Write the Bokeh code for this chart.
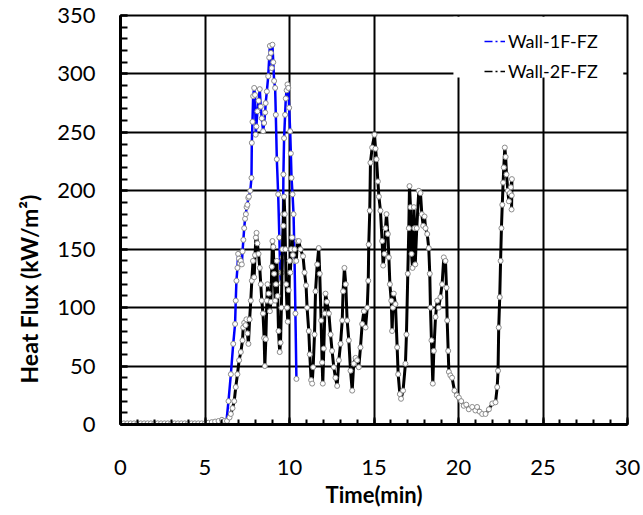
from bokeh.plotting import figure
from bokeh.models import (Range1d, SingleIntervalTicker, Legend, LegendItem,
                          BoxAnnotation, Title, ColumnDataSource)
from bokeh.embed import file_html
from bokeh.resources import INLINE

# ---------------- data ----------------
series_names = ["Wall-1F-FZ", "Wall-2F-FZ"]

time_1f = [6.27, 6.39, 6.53, 6.67, 6.78, 6.82, 6.86, 6.92, 6.96, 7.01, 7.06, 7.12,
           7.18, 7.22, 7.27, 7.32, 7.37, 7.42, 7.46, 7.51, 7.56, 7.6, 7.68, 7.75,
           7.77, 7.81, 7.85, 7.91, 7.96, 8.0, 8.04, 8.1, 8.17, 8.24, 8.3, 8.36,
           8.44, 8.5, 8.56, 8.59, 8.66, 8.74, 8.8, 8.84, 8.9, 8.95, 8.99, 9.04,
           9.09, 9.15, 9.19, 9.25, 9.33, 9.4, 9.45, 9.49, 9.54, 9.59, 9.62, 9.64,
           9.68, 9.74, 9.78, 9.83, 9.88, 9.93, 9.98, 10.04, 10.08, 10.12, 10.18,
           10.24, 10.3, 10.35, 10.41]
flux_1f = [3, 20, 43, 69, 86, 106, 123, 134, 146, 142, 138, 140,
           137, 148, 158, 168, 176, 180, 186, 188, 194, 195, 200, 211,
           241, 259, 281, 288, 282, 248, 255, 268, 277, 287, 272, 262,
           251, 258, 267, 275, 285, 298, 314, 324, 318, 305, 325, 310,
           294, 288, 265, 227, 197, 160, 130, 121, 130, 143, 180, 214,
           245, 265, 279, 286, 291, 288, 271, 251, 232, 211, 197,
           180, 140, 95, 39]

time_2f = [0.0, 0.2, 0.4, 0.6, 0.8, 1.0, 1.2, 1.4, 1.6, 1.8, 2.0, 2.2, 2.4, 2.6,
           2.8, 3.0, 3.2, 3.4, 3.6, 3.8, 4.0, 4.2, 4.4, 4.6, 4.8, 5.0, 5.2, 5.4,
           5.6, 5.8, 6.0, 6.15,
           6.3, 6.45, 6.53, 6.63, 6.73, 6.82, 6.92, 7.02, 7.12, 7.22, 7.26, 7.32,
           7.4, 7.45, 7.51, 7.57, 7.64, 7.71, 7.77, 7.84, 7.91, 7.96, 8.01, 8.05,
           8.1, 8.17, 8.24, 8.3, 8.36, 8.43, 8.5, 8.54, 8.6, 8.66, 8.7, 8.77,
           8.84, 8.9, 8.95, 8.99, 9.04, 9.09, 9.15, 9.2, 9.25, 9.3, 9.35, 9.42,
           9.47, 9.52, 9.58, 9.63, 9.68, 9.72, 9.76, 9.8, 9.85, 9.9, 9.95, 10.0,
           10.05, 10.1, 10.15, 10.2, 10.3, 10.4, 10.47, 10.55, 10.65, 10.8, 10.89,
           10.98, 11.04, 11.14, 11.2, 11.28, 11.34, 11.4, 11.48, 11.54, 11.64,
           11.73, 11.79, 11.87, 11.93, 11.97, 12.03, 12.09, 12.13, 12.22, 12.33,
           12.43, 12.52, 12.62, 12.72, 12.82, 12.92, 13.02, 13.12, 13.17, 13.25,
           13.33, 13.41, 13.51, 13.61, 13.71, 13.8, 13.91, 14.0, 14.1, 14.2, 14.3,
           14.4, 14.5, 14.6, 14.66, 14.69, 14.75, 14.79, 14.89, 15.03, 15.09,
           15.15, 15.23, 15.29, 15.38, 15.48, 15.54, 15.62, 15.68, 15.74, 15.82,
           15.88, 15.94, 16.02, 16.07, 16.12, 16.17, 16.27, 16.37, 16.43, 16.53,
           16.6, 16.72, 16.86, 16.92, 17.0, 17.06, 17.1, 17.16, 17.22, 17.28,
           17.36, 17.4, 17.44, 17.53, 17.65, 17.75, 17.83, 17.91, 17.99, 18.05,
           18.15, 18.24, 18.3, 18.34, 18.4, 18.48, 18.54, 18.64, 18.74, 18.83,
           18.93, 19.03, 19.13, 19.23, 19.29, 19.33, 19.39, 19.43, 19.52, 19.62,
           19.76, 19.9, 20.02, 20.16, 20.31, 20.46, 20.61, 20.81, 21.0, 21.1,
           21.25, 21.4, 21.6, 21.8, 22.0, 22.19, 22.29, 22.34, 22.38, 22.44,
           22.49, 22.54, 22.59, 22.64, 22.68, 22.74, 22.79, 22.84, 22.92, 22.98,
           23.04, 23.1, 23.16, 23.15, 23.14]
flux_2f = [1, 1, 1, 1, 1, 1, 1, 1, 1, 1, 1, 1, 1, 1,
           1, 1, 1, 1, 1, 1, 1, 1, 1, 1, 1, 1, 1.5, 2,
           2.5, 3, 4, 3,
           3, 6, 9, 14, 20, 32, 43, 55, 62, 72, 83, 87,
           85, 90, 78, 69, 90, 106, 123, 140, 126, 145, 160, 164,
           155, 146, 134, 120, 106, 95, 74, 50, 73, 106, 120, 112,
           97, 105, 135, 157, 152, 129, 106, 120, 140, 110, 80, 62,
           70, 100, 150, 170, 195, 180, 150, 120, 100, 88, 115, 140,
           130, 150, 160, 145, 150, 140, 157, 157, 150, 144, 130,
           119, 100, 80, 60, 38, 35, 49, 77, 114, 137,
           151, 129, 89, 53, 35, 65, 95, 112, 105, 95,
           77, 63, 49, 40, 33, 55, 69, 89, 114, 134,
           120, 89, 72, 46, 29, 52, 57, 55, 49, 66, 86,
           97, 83, 100, 123, 154, 183, 224, 237, 248, 236,
           227, 208, 195, 183, 157, 136, 146, 168, 180, 163,
           143, 120, 106, 80, 100, 112, 103, 66, 43, 26,
           22, 29, 52, 77, 129, 168, 204, 186, 146, 134,
           186, 168, 137, 168, 200, 198, 180, 170, 178, 168,
           163, 151, 129, 100, 72, 35, 63, 92, 106, 100,
           109, 120, 143, 140, 117, 89, 63, 45, 42, 40,
           29, 25, 23, 20, 16, 17, 13, 15, 12, 15,
           11, 9, 9, 13, 18, 19, 32, 46, 83, 109,
           140, 168, 188, 207, 220, 237, 229, 214, 200, 191,
           198, 203, 210, 196, 184]

x_tick_step = 5
y_tick_step = 50
x_label = "Time(min)"
y_label = "Heat Flux (kW/m\u00b2)"

# ---------------- figure ----------------
FONT = "Lato"

p = figure(width=643, height=515, output_backend="svg", toolbar_location=None,
           x_range=Range1d(0, 30), y_range=Range1d(0, 350),
           min_border_left=120, min_border_right=16,
           min_border_top=15, min_border_bottom=91,
           background_fill_color="white", border_fill_color="white")

p.outline_line_color = "black"
p.outline_line_width = 2

xt = SingleIntervalTicker(interval=x_tick_step, num_minor_ticks=5)
yt = SingleIntervalTicker(interval=y_tick_step, num_minor_ticks=5)
p.xgrid.ticker = xt
p.ygrid.ticker = yt
for g in (p.xgrid, p.ygrid):
    g.grid_line_color = "black"
    g.grid_line_width = 2

xa = p.xaxis[0]
ya = p.yaxis[0]
xa.ticker = xt
ya.ticker = yt
for ax in (xa, ya):
    ax.axis_line_width = 3
    ax.axis_line_color = "black"
    ax.major_tick_in = 7
    ax.major_tick_out = 0
    ax.minor_tick_out = 0
    ax.major_tick_line_width = 2
    ax.minor_tick_line_width = 2
    ax.major_tick_line_color = "black"
    ax.minor_tick_line_color = "black"
    ax.major_label_text_font = FONT
    ax.major_label_text_font_size = "22px"
    ax.major_label_text_color = "black"
xa.minor_tick_in = 5
ya.minor_tick_in = 7
ya.major_label_standoff = 25
xa.major_label_standoff = 35

xa.axis_label = x_label
xa.axis_label_text_font = FONT
xa.axis_label_text_font_style = "bold"
xa.axis_label_text_font_size = "22px"
xa.axis_label_text_color = "black"
xa.axis_label_standoff = 3

ytitle = Title(text=y_label, align="left", offset=41, standoff=24,
               text_font=FONT, text_font_style="bold", text_font_size="23px",
               text_color="black")
p.add_layout(ytitle, "left")

# series
src_1f = ColumnDataSource(dict(t=time_1f, v=flux_1f))
src_2f = ColumnDataSource(dict(t=time_2f, v=flux_2f))

p.line("t", "v", source=src_1f, line_color="#0000ff", line_width=2.5)
p.scatter("t", "v", source=src_1f, marker="circle", size=5,
          line_color="#8c8c8c", fill_color="white", line_width=1)
p.line("t", "v", source=src_2f, line_color="black", line_width=3)
p.scatter("t", "v", source=src_2f, marker="circle", size=5,
          line_color="#8c8c8c", fill_color="white", line_width=1)

# legend background (white patch covering the grid behind the legend)
p.add_layout(BoxAnnotation(left=19.7, right=29.75, bottom=297, top=349,
                           fill_color="white", fill_alpha=1, line_alpha=0))

# legend samples (dash-dot, as in the reference legend); hidden in the plot itself
leg_1f = p.line("t", "v", source=src_1f, line_color="#0000ff",
                line_width=1.5, line_dash="8 3 2 3", visible=False)
leg_2f = p.line("t", "v", source=src_2f, line_color="black",
                line_width=1.5, line_dash="8 3 2 3", visible=False)

legend = Legend(items=[LegendItem(label=series_names[0], renderers=[leg_1f]),
                       LegendItem(label=series_names[1], renderers=[leg_2f])],
                orientation="vertical",
                background_fill_alpha=0, border_line_alpha=0,
                inactive_fill_alpha=0,
                padding=0, margin=0, spacing=8,
                glyph_width=21, glyph_height=20, label_standoff=3,
                label_text_font=FONT, label_text_font_size="18px",
                label_text_color="black")
legend.location = (364, 342)
p.add_layout(legend, "center")

open("out.html", "w").write(file_html(p, INLINE))
